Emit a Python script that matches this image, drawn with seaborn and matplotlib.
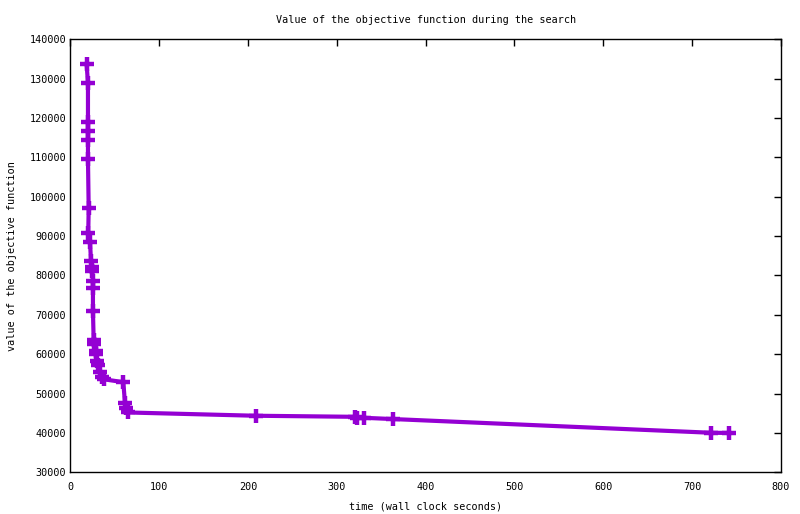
import matplotlib
matplotlib.use("Agg")
import matplotlib.pyplot as plt
import seaborn as sns
import pandas as pd

# wall clock seconds and objective value
time_s = [18.2, 19.7, 19.7, 19.7, 19.7, 19.7, 20.5, 20.0, 22.0, 23.1,
          24.5, 24.5, 25.3, 25.3, 25.3, 26.1, 26.8, 28.4, 28.8, 29.5,
          31.3, 33.2, 35.1, 38.0, 59.5, 61.4, 62.5, 65.1, 208.6, 321.0,
          322.5, 330.5, 363.2, 721.3, 741.6]
objective = [133650, 128820, 119060, 116780, 114420, 109510, 97060, 90710, 88580, 83670,
             82220, 81130, 78590, 76740, 71050, 63600, 62510, 60810, 60050, 58270,
             57250, 55550, 54130, 53620, 52900, 47520, 46400, 45200, 44370, 44100,
             43900, 43850, 43530, 40050, 40000]

x_ticks = list(range(0, 801, 100))
y_ticks = list(range(30000, 140001, 10000))

df = pd.DataFrame({"time": time_s, "value": objective})

sns.set_style("white")
plt.rcParams["font.family"] = ["DejaVu Sans Mono", "Liberation Mono"]
plt.rcParams["text.color"] = "black"
plt.rcParams["axes.labelcolor"] = "black"
fs = 7.3

fig = plt.figure(figsize=(8, 5.14), dpi=100)
ax = fig.add_axes([0.0881, 0.0811, 0.8879, 0.8424])

sns.lineplot(data=df, x="time", y="value", ax=ax, sort=False, estimator=None,
             color="#9400D3", linewidth=3.0, marker="+", markersize=9.5,
             markeredgewidth=3.2, markeredgecolor="#9400D3")

ax.set_xlim(0, 800)
ax.set_ylim(30000, 140000)
ax.set_xticks(x_ticks)
ax.set_yticks(y_ticks)
ax.tick_params(direction="in", length=5, width=1, color="black",
               top=True, right=True, labelsize=fs, labelcolor="black")
ax.tick_params(axis="x", pad=7)
ax.tick_params(axis="y", pad=3)
for s in ax.spines.values():
    s.set_color("black")
    s.set_linewidth(1)

ax.set_title("Value of the objective function during the search", fontsize=fs,
             pad=11.5, color="black")
ax.set_xlabel("time (wall clock seconds)", fontsize=fs, labelpad=7, color="black")
ax.set_ylabel("value of the objective function", fontsize=fs, labelpad=9, color="black")

fig.savefig("out.png", dpi=100)
